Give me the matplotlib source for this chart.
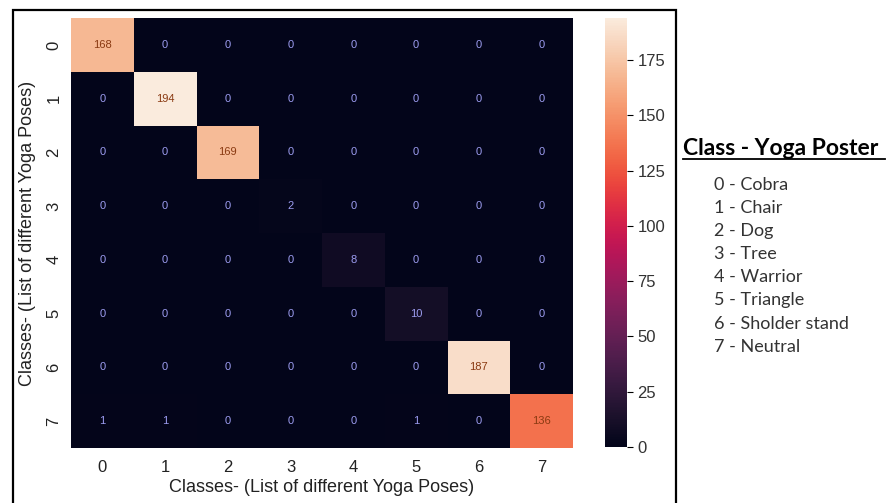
import numpy as np
import matplotlib
matplotlib.use('Agg')
import matplotlib.pyplot as plt
import seaborn as sns
from matplotlib.patches import Rectangle
from matplotlib.lines import Line2D

# confusion matrix values (rows = true class, cols = predicted)
classes = ['0', '1', '2', '3', '4', '5', '6', '7']
cm = np.array([
    [168, 0, 0, 0, 0, 0, 0, 0],
    [0, 194, 0, 0, 0, 0, 0, 0],
    [0, 0, 169, 0, 0, 0, 0, 0],
    [0, 0, 0, 2, 0, 0, 0, 0],
    [0, 0, 0, 0, 8, 0, 0, 0],
    [0, 0, 0, 0, 0, 10, 0, 0],
    [0, 0, 0, 0, 0, 0, 187, 0],
    [1, 1, 0, 0, 0, 1, 0, 136],
])
legend_title = 'Class - Yoga Poster'
pose_names = ['Cobra', 'Chair', 'Dog', 'Tree', 'Warrior', 'Triangle',
              'Sholder stand', 'Neutral']
axis_label = 'Classes- (List of different Yoga Poses)'

plt.rcParams['font.family'] = ['Liberation Sans', 'DejaVu Sans']

fig = plt.figure(figsize=(8.89, 5.03), dpi=100)
ax = fig.add_axes([71 / 889, 1 - 448 / 503, 502 / 889, 430 / 503])
cax = fig.add_axes([605 / 889, 1 - 447 / 503, 22 / 889, 429 / 503])

sns.heatmap(cm, annot=True, fmt='d', cmap='rocket', vmin=0, vmax=194,
            ax=ax, cbar_ax=cax, annot_kws={'size': 8},
            xticklabels=classes, yticklabels=classes)

# recolour annotations like the picture
for t in ax.texts:
    v = int(t.get_text())
    t.set_color('#8a3a12' if v > 100 else '#9c9cf0')

ax.tick_params(axis='x', labelsize=12, length=0, pad=9, labelcolor='#222222')
ax.tick_params(axis='y', labelsize=12, length=0, pad=7, labelcolor='#222222')
plt.setp(ax.get_yticklabels(), rotation=90, va='center')
ax.set_xlabel(axis_label, fontsize=13, color='#222222', va='center')
ax.set_ylabel(axis_label, fontsize=13, color='#222222', va='center')
ax.xaxis.set_label_coords(0.5, -40 / 430)
ax.yaxis.set_label_coords(-43 / 502, 0.5)

cax.tick_params(labelsize=12, length=4, labelcolor='#333333')
cax.set_yticks([0, 25, 50, 75, 100, 125, 150, 175])

# black frame around the chart area
fig.patches.append(Rectangle((13 / 889, -0.02), 663 / 889, 0.02 + 1 - 10 / 503,
                             transform=fig.transFigure, fill=False,
                             edgecolor='black', linewidth=1.6))

# class legend on the right
fig.text(683 / 889, 1 - 155 / 503, legend_title, fontsize=16.5,
         fontweight='bold', family='Lato', va='baseline', ha='left')
fig.lines.append(Line2D([683 / 889, 885 / 889], [1 - 159 / 503, 1 - 159 / 503],
                        transform=fig.transFigure, color='black', linewidth=1.3))
for i, name in enumerate(pose_names):
    fig.text(714 / 889, 1 - (185 + 23.1 * i) / 503, f'{i} - {name}',
             fontsize=13, family='Lato', va='center', ha='left',
             color='#333333')

fig.savefig('out.png', dpi=100)
